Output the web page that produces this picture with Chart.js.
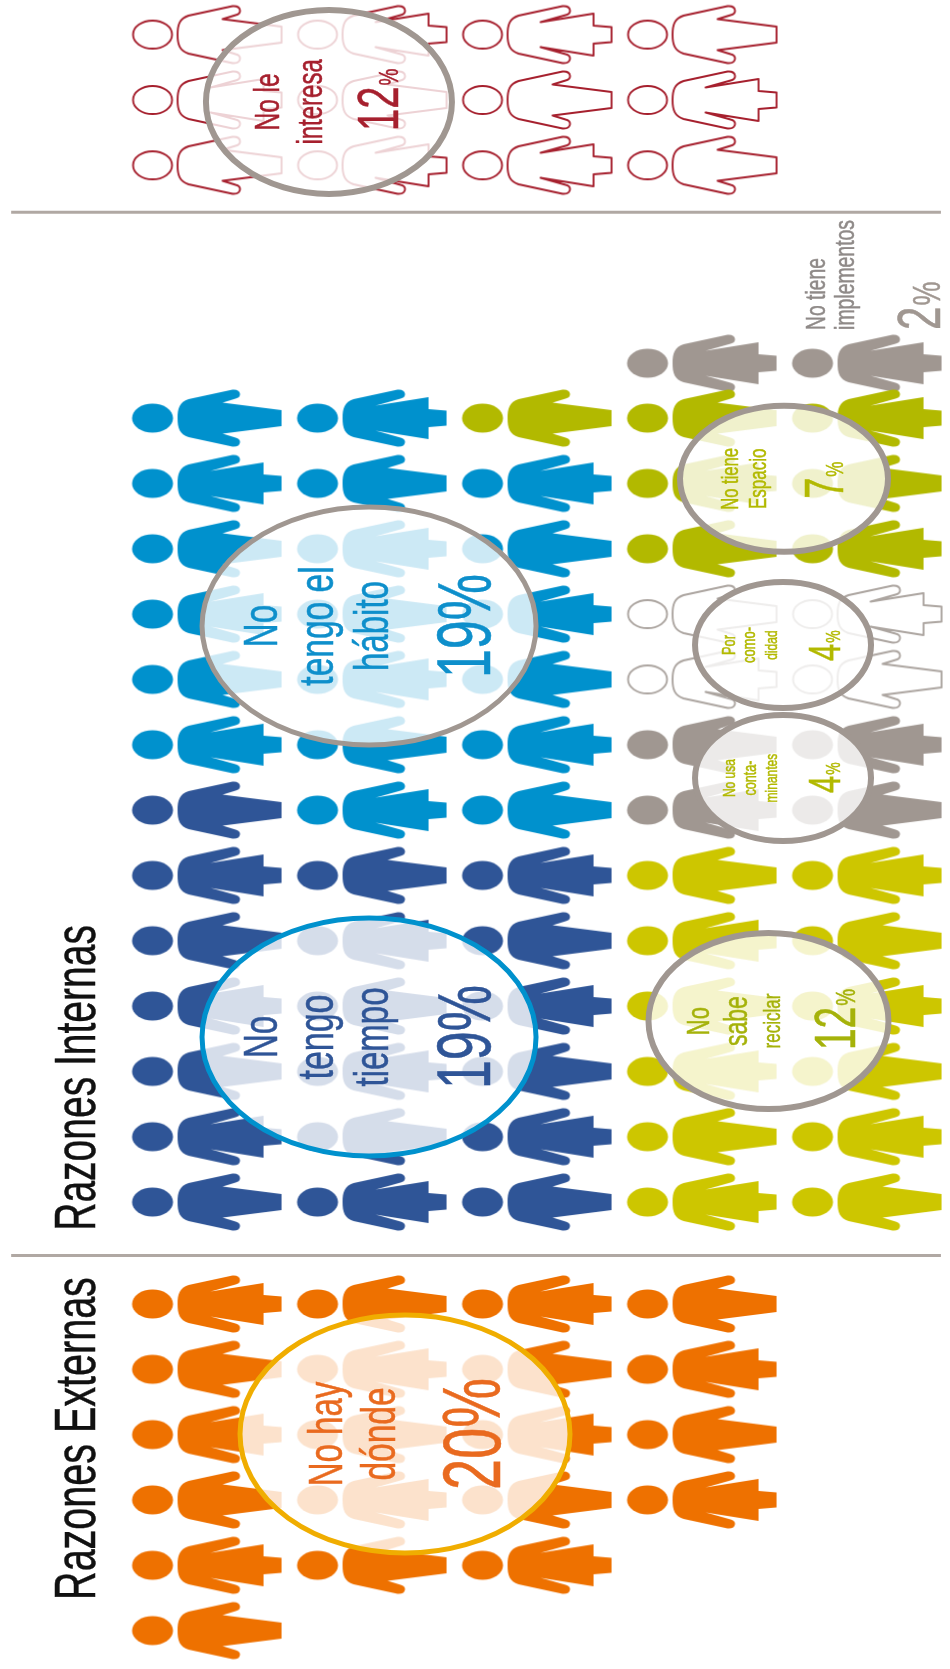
<!DOCTYPE html>
<html lang="es">
<head>
<meta charset="UTF-8">
<title>Razones para no reciclar</title>
<script src="https://cdn.jsdelivr.net/npm/chart.js"></script>
<style>
    body { margin: 0; background: #ffffff; }
    canvas { display: block; }
</style>
</head>
<body>
<canvas id="grafico" width="950" height="1669"></canvas>

<script>
// porcentaje de cada razon
const razones = ['No tengo tiempo', 'No tengo el hábito', 'No sabe reciclar', 'No usa contaminantes', 'Por comodidad', 'No tiene Espacio', 'No tiene implementos', 'No hay dónde', 'No le interesa'];
const porcentajes = [19, 19, 12, 4, 4, 7, 2, 20, 12];

// cuantas figuras tiene cada razon en cada fila (1 figura = 1%)
const tiempoPorFila = [7, 6, 6, 0, 0];
const habitoPorFila = [6, 7, 6, 0, 0];
const reciclarPorFila = [0, 0, 0, 6, 6];
const contaminantesPorFila = [0, 0, 0, 2, 2];
const comodidadPorFila = [0, 0, 0, 2, 2];
const espacioPorFila = [0, 0, 1, 3, 3];
const implementosPorFila = [0, 0, 0, 1, 1];
const dondePorFila = [6, 5, 5, 4];
const interesaPorFila = [3, 3, 3, 3];

const tituloInternas = 'Razones Internas';
const tituloExternas = 'Razones Externas';

// ---- figuras ----
const NARANJA = '#ee7100', MARINO = '#2f5597', AZUL = '#0091cd', AMARILLO = '#cdc600', VERDE = '#b2b900', GRIS = '#a09791', ROJO = '#a6202e';
const ESTIRADO = 1.45; // el original esta estirado a lo ancho

function trazarCuerpo(c, falda) {
    c.beginPath();
    c.moveTo(45, 0);
    c.bezierCurveTo(45, -10, 47, -16, 56, -19);
    c.lineTo(100, -28.5);
    c.quadraticCurveTo(107, -29, 107.5, -24);
    c.quadraticCurveTo(107.5, -20.5, 103, -19.5);
    if (falda) {
        c.lineTo(90, -15.5);
        c.lineTo(149, -8);
        c.lineTo(149, 8);
        c.lineTo(90, 15.5);
    } else {
        c.lineTo(78, -12.5);
        c.lineTo(131, -21);
        c.lineTo(131, -9);
        c.lineTo(149, -7.5);
        c.lineTo(149, 7.5);
        c.lineTo(131, 9);
        c.lineTo(131, 21);
        c.lineTo(78, 12.5);
    }
    c.lineTo(103, 19.5);
    c.quadraticCurveTo(107.5, 20.5, 107.5, 24);
    c.quadraticCurveTo(107, 29, 100, 28.5);
    c.lineTo(56, 19);
    c.bezierCurveTo(47, 16, 45, 10, 45, 0);
    c.closePath();
}

function hacerFigura(color, falda, hueca) {
    const lienzo = document.createElement('canvas');
    lienzo.width = 160;
    lienzo.height = 68;
    const c = lienzo.getContext('2d');
    c.filter = 'blur(0.5px)';
    c.translate(5, 34);
    c.fillStyle = color;
    c.strokeStyle = color;
    c.lineWidth = 1.9;
    c.lineJoin = 'round';

    c.beginPath();
    c.ellipse(20, 0, hueca ? 19.5 : 20.5, hueca ? 14 : 14.5, 0, 0, Math.PI * 2);
    if (hueca) c.stroke(); else c.fill();

    trazarCuerpo(c, falda);
    if (hueca) c.stroke(); else c.fill();
    return lienzo;
}

const figuras = {};
function figura(color, falda, hueca) {
    const clave = color + falda + hueca;
    if (!figuras[clave]) figuras[clave] = hacerFigura(color, falda, hueca);
    return figuras[clave];
}

// ---- datasets ----
const datasets = [];

function agregarBloque(porFila, color, cursor, opciones) {
    const puntos = [], estilos = [];
    porFila.forEach((cantidad, fila) => {
        for (let i = 0; i < cantidad; i++) {
            const casilla = cursor[fila]++;
            puntos.push({ x: fila, y: opciones.base + opciones.paso * casilla });
            estilos.push(figura(color, opciones.falda(fila, casilla), !!opciones.hueca));
        }
    });
    datasets.push({
        type: 'scatter',
        data: puntos,
        pointStyle: estilos,
        pointRadius: 10,
        pointHoverRadius: 10,
        showLine: false,
        clip: false
    });
}

// internas: de abajo hacia arriba
const cursorInternas = [0, 0, 0, 0, 0];
const faldaInternas = (fila, casilla) => {
    // en las dos ultimas filas el verde va al reves
    const par = (fila + casilla) % 2 === 0;
    return (fila >= 3 && casilla >= 10) ? !par : par;
};
agregarBloque(tiempoPorFila, MARINO, cursorInternas, { base: 0, paso: 1, falda: faldaInternas });
agregarBloque(habitoPorFila, AZUL, cursorInternas, { base: 0, paso: 1, falda: faldaInternas });
agregarBloque(reciclarPorFila, AMARILLO, cursorInternas, { base: 0, paso: 1, falda: faldaInternas });
agregarBloque(contaminantesPorFila, GRIS, cursorInternas, { base: 0, paso: 1, falda: faldaInternas });
agregarBloque(comodidadPorFila, '#aca5a0', cursorInternas, { base: 0, paso: 1, falda: faldaInternas, hueca: true });
agregarBloque(espacioPorFila, VERDE, cursorInternas, { base: 0, paso: 1, falda: faldaInternas });
agregarBloque(implementosPorFila, GRIS, cursorInternas, { base: -0.16, paso: 1, falda: () => false });

// externas: de arriba hacia abajo
agregarBloque(dondePorFila, NARANJA, [0, 0, 0, 0], { base: -1.56, paso: -1, falda: (f, c) => (f + c) % 2 === 1 });

// no le interesa: arriba de todo
agregarBloque(interesaPorFila, ROJO, [0, 0, 0, 0], { base: 15.87, paso: 1, hueca: true, falda: (f, c) => [c % 2 === 0, c % 2 === 1, c % 2 === 1, c % 2 === 0][f] });

// separadores
[-0.82, 15.15].forEach(y => {
    datasets.push({
        type: 'line',
        data: [{ x: -1.19, y: y }, { x: 4.445, y: y }],
        borderColor: '#b0a8a3',
        borderWidth: 3,
        pointRadius: 0
    });
});

// ---- globos con texto ----
const globos = [
    { x: 0.979, y: 2.526, rx: 167, ry: 119, borde: AZUL, color: MARINO, razon: 0, lineas: [['No', -92, 33], ['tengo', -36, 34], ['tiempo', 19, 33]], num: [121, 52] },
    { x: 0.979, y: 8.817, rx: 167, ry: 119, borde: GRIS, color: '#0e8fcb', razon: 1, lineas: [['No', -92, 33], ['tengo el', -36, 33.5], ['hábito', 19, 33]], num: [121, 52] },
    { x: 3.4, y: 2.77, rx: 120, ry: 88, borde: GRIS, color: '#a5b20a', razon: 2, lineas: [['No', -60, 22], ['sabe', -22, 23], ['reciclar', 11, 17]], num: [86, 39, 19, 29] },
    { x: 3.488, y: 6.49, rx: 88, ry: 63, borde: GRIS, color: VERDE, razon: 3, lineas: [['No usa', -48, 12], ['conta-', -27, 12.6], ['minantes', -6, 12]], num: [57, 31, 14, 15] },
    { x: 3.488, y: 8.526, rx: 88, ry: 63, borde: GRIS, color: VERDE, razon: 4, lineas: [['Por', -48, 12.8], ['como-', -28, 13], ['didad', -6, 12]], num: [57, 31, 14, 16] },
    { x: 3.494, y: 11.07, rx: 104, ry: 73, borde: GRIS, color: VERDE, razon: 5, lineas: [['No tiene', -46, 16.6], ['Espacio', -18, 17]], num: [59, 38, 17, 20] },
    { x: 1.197, y: -3.551, rx: 165, ry: 119, borde: '#f0ad00', color: '#e96a1f', razon: 7, lineas: [['No hay', -63, 33], ['dónde', -10, 33.5]], num: [95, 56] },
    { x: 0.736, y: 16.84, rx: 123, ry: 92, borde: GRIS, color: ROJO, razon: 8, lineas: [['No le', -50, 24.5], ['interesa', -7, 24]], num: [69, 40, 19, 29] }
];

function textoV(c, str, x, y, size, color, align) {
    c.save();
    c.translate(x, y);
    c.rotate(-Math.PI / 2);
    c.scale(1, ESTIRADO);
    c.font = size + 'px "Liberation Sans", Arial, sans-serif';
    c.textAlign = align || 'center';
    c.textBaseline = 'alphabetic';
    c.fillStyle = color;
    c.strokeStyle = color;
    c.lineWidth = 0.35;
    c.fillText(str, 0, 0);
    c.strokeText(str, 0, 0);
    c.restore();
}

// numero grande con el % chico al lado, arrancando desde abajo
function numeroV(c, valor, x, y, size, sizeP, color) {
    const n = String(valor);
    textoV(c, n, x, y, size, color, 'left');
    c.font = size + 'px "Liberation Sans", Arial, sans-serif';
    const largo = c.measureText(n).width;
    textoV(c, '%', x, y - largo - 1, sizeP, color, 'left');
}

const globosPlugin = {
    id: 'globos',
    afterDatasetsDraw(chart) {
        const c = chart.ctx, sx = chart.scales.x, sy = chart.scales.y;
        globos.forEach(g => {
            const cx = sx.getPixelForValue(g.x), cy = sy.getPixelForValue(g.y);
            c.save();
            c.beginPath();
            c.ellipse(cx, cy, g.rx, g.ry, 0, 0, Math.PI * 2);
            c.fillStyle = 'rgba(255,255,255,0.8)';
            c.fill();
            c.lineWidth = g.rx > 150 ? 5 : 6;
            c.strokeStyle = g.borde;
            c.stroke();
            c.restore();

            g.lineas.forEach(l => textoV(c, l[0], cx + l[1], cy, l[2], g.color));
            const valor = porcentajes[g.razon];
            if (g.num.length === 2) {
                textoV(c, valor + '%', cx + g.num[0], cy, g.num[1], g.color);
            } else {
                numeroV(c, valor, cx + g.num[0], cy + g.num[3], g.num[1], g.num[2], g.color);
            }
        });

        // no tiene implementos va suelto, sin globo
        const ix = sx.getPixelForValue(3.742), iy = sy.getPixelForValue(13.35);
        textoV(c, 'No tiene', ix, iy, 19.3, '#8f8a88', 'left');
        textoV(c, 'implementos', ix + 29.5, iy, 19.4, '#8f8a88', 'left');
        numeroV(c, porcentajes[6], ix + 115, iy, 42, 27, GRIS);

        // titulos
        textoV(c, tituloInternas, 95, sy.getPixelForValue(1.9), 39, '#111111');
        textoV(c, tituloExternas, 95, sy.getPixelForValue(-3.62), 39.5, '#111111');
    }
};

new Chart(document.getElementById('grafico'), {
    data: { datasets: datasets },
    plugins: [globosPlugin],
    options: {
        responsive: false,
        animation: false,
        events: [],
        layout: { padding: 0, autoPadding: false },
        plugins: { legend: { display: false }, tooltip: { enabled: false } },
        scales: {
            x: { type: 'linear', display: false, min: -1.2576, max: 4.5 },
            y: { type: 'linear', display: false, min: -7.148, max: 18.4 }
        }
    }
});
</script>
</body>
</html>
